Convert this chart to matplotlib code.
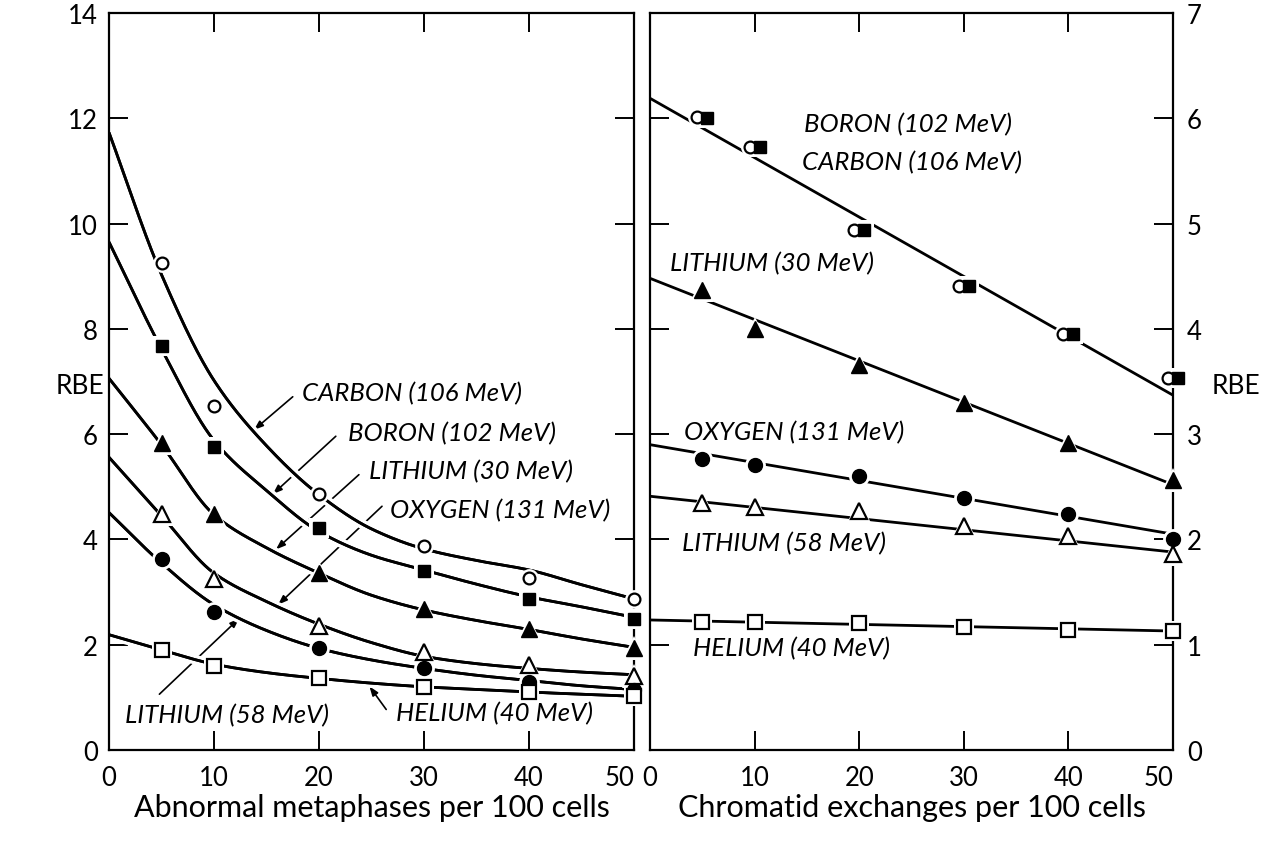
import numpy as np
import matplotlib
matplotlib.use("Agg")
import matplotlib.pyplot as plt
from matplotlib import font_manager, patheffects, transforms

# ---------------------------------------------------------------- data
# doses at which RBE was measured
dose_x = [5, 10, 20, 30, 40, 50]

# Abnormal metaphases panel: measured RBE
meta_carbon = [9.26, 6.54, 4.87, 3.87, 3.27, 2.86]
meta_boron = [7.68, 5.75, 4.22, 3.40, 2.87, 2.48]
meta_li30 = [5.84, 4.48, 3.37, 2.67, 2.29, 1.94]
meta_li58 = [4.48, 3.24, 2.36, 1.87, 1.61, 1.40]
meta_oxygen = [3.62, 2.62, 1.94, 1.56, 1.30, 1.14]
meta_helium = [1.90, 1.59, 1.37, 1.19, 1.11, 1.03]

# Abnormal metaphases panel: hand-fitted curves (knots)
fit_x = [0, 5, 10, 15, 20, 25, 30, 35, 40, 45, 50]
fit_carbon = [11.73, 9.03, 7.02, 5.78, 4.85, 4.20, 3.82, 3.60, 3.42, 3.14, 2.87]
fit_boron = [9.65, 7.62, 5.88, 4.93, 4.15, 3.70, 3.42, 3.15, 2.91, 2.72, 2.52]
fit_li30 = [7.06, 5.80, 4.47, 3.84, 3.36, 2.94, 2.66, 2.46, 2.29, 2.11, 1.95]
fit_li58 = [5.56, 4.45, 3.36, 2.82, 2.39, 2.04, 1.78, 1.64, 1.55, 1.48, 1.43]
fit_oxygen = [4.51, 3.55, 2.76, 2.27, 1.93, 1.71, 1.55, 1.42, 1.32, 1.22, 1.15]
fit_helium = [2.19, 1.90, 1.63, 1.47, 1.36, 1.27, 1.20, 1.15, 1.10, 1.06, 1.02]

# Chromatid exchanges panel: measured RBE
chrom_carbon = [6.01, 5.73, 4.94, 4.41, 3.95, 3.53]
chrom_boron = [6.00, 5.73, 4.94, 4.41, 3.95, 3.53]
chrom_li30 = [4.37, 4.00, 3.66, 3.30, 2.92, 2.56]
chrom_oxygen = [2.76, 2.71, 2.60, 2.39, 2.24, 2.00]
chrom_li58 = [2.35, 2.31, 2.27, 2.13, 2.03, 1.86]
chrom_helium = [1.22, 1.22, 1.21, 1.17, 1.14, 1.13]

# Chromatid exchanges panel: straight-line fits (ends at 0 and 50)
line_x = [0, 50]
line_bc = [6.19, 3.37]
line_li30 = [4.48, 2.52]
line_oxygen = [2.90, 2.05]
line_li58 = [2.41, 1.88]
line_helium = [1.235, 1.13]

x_ticks = [0, 10, 20, 30, 40, 50]
x_tick_labels = ["0", "10", "20", "30", "40", "50"]
left_y_ticks = [0, 2, 4, 6, 8, 10, 12, 14]
right_y_ticks = [0, 1, 2, 3, 4, 5, 6, 7]


# ---------------------------------------------------------------- fonts
def pick_font(candidates):
    names = {f.name for f in font_manager.fontManager.ttflist}
    for c in candidates:
        if c in names:
            return c
    return "DejaVu Sans"


FONT = pick_font(["Lato", "Liberation Sans", "DejaVu Sans"])


def pchip(xk, yk, xs):
    """Monotone piecewise cubic through the knots."""
    xk = np.asarray(xk, float)
    yk = np.asarray(yk, float)
    h = np.diff(xk)
    d = np.diff(yk) / h
    m = np.zeros_like(yk)
    for i in range(1, len(xk) - 1):
        if d[i - 1] * d[i] > 0:
            w1 = 2 * h[i] + h[i - 1]
            w2 = h[i] + 2 * h[i - 1]
            m[i] = (w1 + w2) / (w1 / d[i - 1] + w2 / d[i])
    m[0] = d[0]
    m[-1] = d[-1]
    idx = np.clip(np.searchsorted(xk, xs) - 1, 0, len(xk) - 2)
    t = (xs - xk[idx]) / h[idx]
    h00 = 2 * t**3 - 3 * t**2 + 1
    h10 = t**3 - 2 * t**2 + t
    h01 = -2 * t**3 + 3 * t**2
    h11 = t**3 - t**2
    return (h00 * yk[idx] + h10 * h[idx] * m[idx]
            + h01 * yk[idx + 1] + h11 * h[idx] * m[idx + 1])


# ---------------------------------------------------------------- figure
W, H = 1272, 853
fig = plt.figure(figsize=(W / 100, H / 100), dpi=100)
fig.patch.set_facecolor("white")

ax_l = fig.add_axes([109 / W, 1 - 751 / H, (634 - 109) / W, (751 - 14) / H])
ax_r = fig.add_axes([650 / W, 1 - 751 / H, (1173 - 650) / W, (751 - 14) / H])

LW = 2.0
HALO = [patheffects.withStroke(linewidth=7, foreground="white"), patheffects.Normal()]

marker_style = {
    "ocircle": dict(marker="o", ms=8.5, mfc="white", mec="black", mew=1.6),
    "fsquare": dict(marker="s", ms=9, mfc="black", mec="black", mew=1.0),
    "ftri": dict(marker="^", ms=12, mfc="black", mec="black", mew=1.0),
    "otri": dict(marker="^", ms=12, mfc="white", mec="black", mew=1.6),
    "fcircle": dict(marker="o", ms=10, mfc="black", mec="black", mew=1.0),
    "osquare": dict(marker="s", ms=10, mfc="white", mec="black", mew=1.6),
}


def draw_markers(ax, xs, ys, kind, transform=None):
    st = marker_style[kind]
    tr = transform if transform is not None else ax.transData
    # white halo so lines and spines break around the symbol
    ax.plot(xs, ys, ls="none", marker=st["marker"], ms=st["ms"] + 5,
            mfc="white", mec="white", mew=0, zorder=5, clip_on=False,
            transform=tr)
    ax.plot(xs, ys, ls="none", zorder=6, clip_on=False, transform=tr, **st)


xs_dense = np.linspace(0, 50, 400)

# left panel curves
for knots in [fit_carbon, fit_boron, fit_li30, fit_li58, fit_oxygen, fit_helium]:
    ax_l.plot(xs_dense, pchip(fit_x, knots, xs_dense), color="black", lw=LW,
              zorder=3, path_effects=HALO, solid_capstyle="butt")

draw_markers(ax_l, dose_x, meta_carbon, "ocircle")
draw_markers(ax_l, dose_x, meta_boron, "fsquare")
draw_markers(ax_l, dose_x, meta_li30, "ftri")
draw_markers(ax_l, dose_x, meta_li58, "otri")
draw_markers(ax_l, dose_x, meta_oxygen, "fcircle")
draw_markers(ax_l, dose_x, meta_helium, "osquare")

# right panel straight lines
for ends in [line_bc, line_li30, line_oxygen, line_li58, line_helium]:
    ax_r.plot(line_x, ends, color="black", lw=LW, zorder=3,
              solid_capstyle="butt")

shift_left = transforms.offset_copy(ax_r.transData, fig=fig, x=-5, y=0, units="dots")
shift_right = transforms.offset_copy(ax_r.transData, fig=fig, x=5, y=0, units="dots")
draw_markers(ax_r, dose_x, chrom_carbon, "ocircle", transform=shift_left)
draw_markers(ax_r, dose_x, chrom_boron, "fsquare", transform=shift_right)
draw_markers(ax_r, dose_x, chrom_li30, "ftri")
draw_markers(ax_r, dose_x, chrom_oxygen, "fcircle")
draw_markers(ax_r, dose_x, chrom_li58, "otri")
draw_markers(ax_r, dose_x, chrom_helium, "osquare")

# ---------------------------------------------------------------- labels
lab_font = dict(family=FONT, style="italic", fontsize=18.5, va="center",
                ha="left", zorder=7)
arrow_props = dict(arrowstyle="-|>,head_length=0.55,head_width=0.2", color="black",
                   lw=1.2, shrinkA=0, shrinkB=0)

left_labels = [
    ("CARBON (106 MeV)", (18.4, 6.78), (17.5, 6.71), (13.8, 6.08)),
    ("BORON (102 MeV)", (22.8, 6.03), (21.6, 5.96), (15.6, 4.86)),
    ("LITHIUM (30 MeV)", (24.8, 5.30), (23.8, 5.23), (15.9, 3.81)),
    ("OXYGEN (131 MeV)", (26.8, 4.57), (26.0, 4.63), (16.1, 2.76)),
    ("LITHIUM (58 MeV)", (1.5, 0.67), (4.8, 1.06), (12.4, 2.50)),
    ("HELIUM (40 MeV)", (27.3, 0.70), (26.4, 0.77), (24.8, 1.21)),
]
for text, pos, start, tip in left_labels:
    ax_l.text(pos[0], pos[1], text, **lab_font)
    ax_l.annotate("", xy=tip, xytext=start, arrowprops=arrow_props, zorder=2)

right_labels = [
    ("BORON (102 MeV)", (14.7, 5.95)),
    ("CARBON (106 MeV)", (14.5, 5.59)),
    ("LITHIUM (30 MeV)", (1.9, 4.63)),
    ("OXYGEN (131 MeV)", (3.25, 3.02)),
    ("LITHIUM (58 MeV)", (3.1, 1.97)),
    ("HELIUM (40 MeV)", (4.1, 0.97)),
]
for text, pos in right_labels:
    ax_r.text(pos[0], pos[1], text, **lab_font)

# ---------------------------------------------------------------- axes
for ax, yticks, ymax in [(ax_l, left_y_ticks, 14), (ax_r, right_y_ticks, 7)]:
    ax.set_xlim(0, 50)
    ax.set_ylim(0, ymax)
    ax.set_xticks(x_ticks, labels=x_tick_labels)
    ax.set_yticks(yticks, labels=[str(v) for v in yticks])
    for sp in ax.spines.values():
        sp.set_linewidth(1.6)
        sp.set_zorder(4)
    ax.tick_params(axis="both", direction="in", length=14, width=1.4, top=True,
                   bottom=True, left=True, right=True, labelsize=18.5)
    ax.tick_params(axis="x", pad=11)

ax_l.tick_params(axis="y", labelleft=True, labelright=False, pad=8)
ax_r.tick_params(axis="y", labelleft=False, labelright=True, pad=10)

for ax in (ax_l, ax_r):
    for lbl in ax.get_xticklabels() + ax.get_yticklabels():
        lbl.set_family(FONT)
    # last label sits left of its tick so the two panels' labels do not collide
    ax.xaxis.get_major_ticks()[-1].label1.set_horizontalalignment("right")

fig.text((109 + 634) / 2 / W, 1 - 808 / H, "Abnormal metaphases per 100 cells",
         family=FONT, fontsize=22, ha="center", va="center")
fig.text((650 + 1173) / 2 / W, 1 - 808 / H, "Chromatid exchanges per 100 cells",
         family=FONT, fontsize=22, ha="center", va="center")
fig.text(80 / W, 1 - 387 / H, "RBE", family=FONT, fontsize=19, ha="center",
         va="center")
fig.text(1236 / W, 1 - 387 / H, "RBE", family=FONT, fontsize=19, ha="center",
         va="center")

fig.savefig("out.png", dpi=100, facecolor="white")
